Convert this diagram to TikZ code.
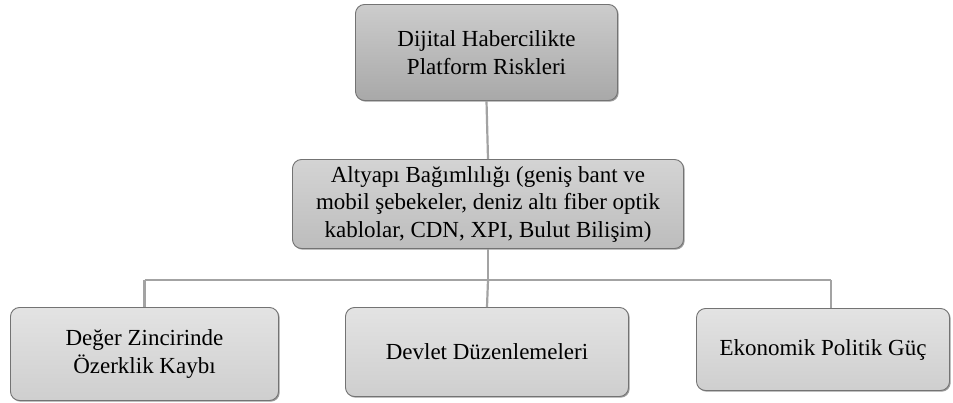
\documentclass[tikz,border=0pt]{standalone}
\usepackage{fontspec}
\setmainfont{Liberation Serif}
\newfontfamily\tnrfont{Liberation Serif}
\usetikzlibrary{shadows,calc}
\begin{document}
\begin{tikzpicture}[x=1pt,y=-1pt,
  box/.style={draw=black!55, line width=0.9pt, rounded corners=9pt, align=center,
    inner sep=0pt, font=\tnrfont\fontsize{23}{27.5}\selectfont,
    drop shadow={shadow xshift=1.2pt, shadow yshift=-1.2pt, opacity=0.55, fill=black!70}},
  topbox/.style={box, top color=black!20, bottom color=black!34},
  midbox/.style={box, top color=black!17, bottom color=black!26},
  lowbox/.style={box, top color=black!11, bottom color=black!19},
  conn/.style={draw=black!36, line width=2.2pt}]
\useasboundingbox (0,0) rectangle (953,403);
\node[topbox, minimum width=262pt, minimum height=96pt] (top) at (486.5,52.5)
  {Dijital Habercilikte\\Platform Riskleri};
\node[midbox, minimum width=391pt, minimum height=89pt] (mid) at (488,204)
  {Altyapı Bağımlılığı (geniş bant ve\\mobil şebekeler, deniz altı fiber optik\\kablolar, CDN, XPI, Bulut Bilişim)};
\node[lowbox, minimum width=268pt, minimum height=93pt] (b1) at (144.5,354)
  {Değer Zincirinde\\Özerklik Kaybı};
\node[lowbox, minimum width=283pt, minimum height=89pt] (b2) at (487,352)
  {Devlet Düzenlemeleri};
\node[lowbox, minimum width=253pt, minimum height=82pt] (b3) at (823,349.5)
  {Ekonomik Politik Güç};
\coordinate (hub) at (488,280);
\coordinate (bl) at (144.5,280);
\coordinate (br) at (831,280);
\draw[conn] (top.south) -- (mid.north);
\draw[conn] (mid.south) -- (hub);
\draw[conn] (bl) -- (br);
\draw[conn] (bl) -- (b1.north);
\draw[conn] (hub) -- (b2.north);
\draw[conn] (br) -- (br |- b3.north);
\end{tikzpicture}
\end{document}
